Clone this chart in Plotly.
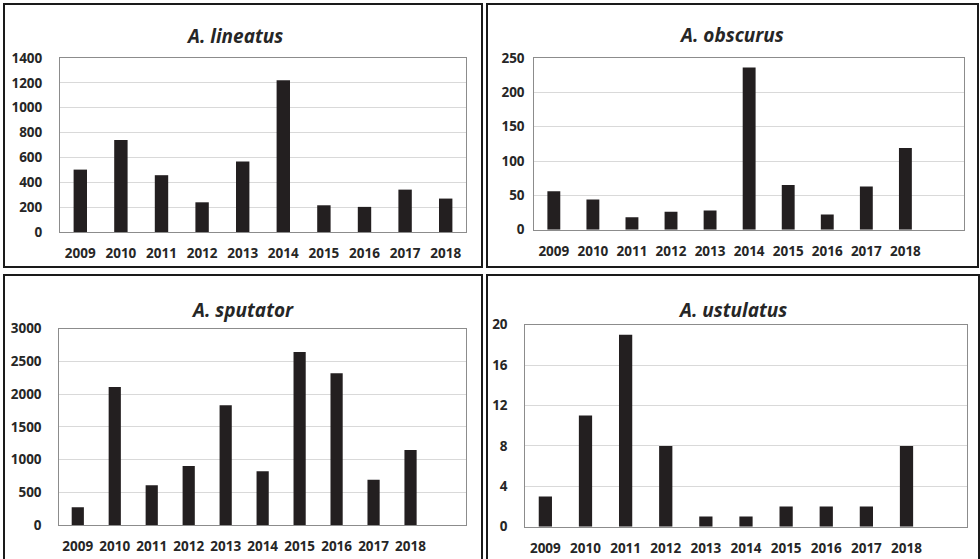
import plotly.graph_objects as go

years = ["2009", "2010", "2011", "2012", "2013", "2014", "2015", "2016", "2017", "2018"]
lineatus = [502, 740, 457, 239, 567, 1220, 215, 202, 341, 269]
obscurus = [56, 44, 18, 26, 28, 236, 65, 22, 63, 119]
sputator = [270, 2110, 606, 902, 1829, 820, 2644, 2318, 693, 1146]
ustulatus = [3, 11, 19, 8, 1, 1, 2, 2, 2, 8]

titles = ["A. lineatus", "A. obscurus", "A. sputator", "A. ustulatus"]
series = [lineatus, obscurus, sputator, ustulatus]
yranges = [(0, 1400, 200), (0, 250, 50), (0, 3000, 500), (0, 20, 4)]
nslots = [10, 11, 11, 11]

W, H = 980, 559
# plot area pixel boxes: x0, x1, ytop, ybottom
boxes = [(60, 466, 58, 232), (534.3, 964, 58, 229.7), (59.3, 466, 328.7, 525), (525.3, 966.7, 324.7, 526.7)]
ystand = [14, 6, 14, 14]
title_pos = [(234, 36), (731, 35), (242, 310), (732, 310)]
panels = [(4, 482, 4, 267), (487, 978, 4, 267), (4, 482, 275, 562), (487, 979, 275, 562)]

BAR = "#231f20"
TXT = "#262626"
GRID = "#d9d9d9"
BORDER = "#8c8c8c"
FONT = "Open Sans"

fig = go.Figure()
layout = dict(width=W, height=H, autosize=False, margin=dict(l=0, r=0, t=0, b=0, pad=0),
              paper_bgcolor="white", plot_bgcolor="white", showlegend=False,
              bargap=0.67, shapes=[], annotations=[])

for i in range(4):
    n = "" if i == 0 else str(i + 1)
    fig.add_trace(go.Bar(x=years, y=series[i], marker=dict(color=BAR, line=dict(width=0)),
                         xaxis="x" + n, yaxis="y" + n, hoverinfo="x+y"))
    x0, x1, yt, yb = boxes[i]
    lo, hi, dt = yranges[i]
    layout["xaxis" + n] = dict(domain=[x0 / W, x1 / W], anchor="y" + n, type="category",
                               range=[-0.5, nslots[i] - 0.5], showgrid=False, automargin=False,
                               showline=True, linecolor=BORDER, linewidth=1, mirror=True,
                               ticks="", ticklabelstandoff=9,
                               tickfont=dict(family=FONT, size=13.5, color=TXT, weight="bold"),
                               fixedrange=True)
    layout["yaxis" + n] = dict(domain=[1 - yb / H, 1 - yt / H], anchor="x" + n,
                               range=[lo, hi], dtick=dt, tick0=0, automargin=False,
                               showgrid=True, gridcolor=GRID, gridwidth=1,
                               zeroline=False, showline=True, linecolor=BORDER, linewidth=1, mirror=True,
                               ticks="", ticklabelstandoff=ystand[i],
                               tickfont=dict(family=FONT, size=13.5, color=TXT, weight="bold"),
                               fixedrange=True)
    tx, ty = title_pos[i]
    layout["annotations"].append(dict(text=titles[i], xref="paper", yref="paper",
                                      x=tx / W, y=1 - ty / H, xanchor="center", yanchor="middle",
                                      showarrow=False,
                                      font=dict(family=FONT, size=19, color=TXT, weight="bold", style="italic")))
    px0, px1, py0, py1 = panels[i]
    layout["shapes"].append(dict(type="rect", xref="paper", yref="paper",
                                 x0=px0 / W, x1=px1 / W, y0=1 - py1 / H, y1=1 - py0 / H,
                                 line=dict(color="#1a1a1a", width=2), layer="above"))

fig.update_layout(**layout)
fig.write_html("out.html", config={"displayModeBar": False},
               post_script="document.body.style.margin='0';document.body.style.overflow='hidden';")
